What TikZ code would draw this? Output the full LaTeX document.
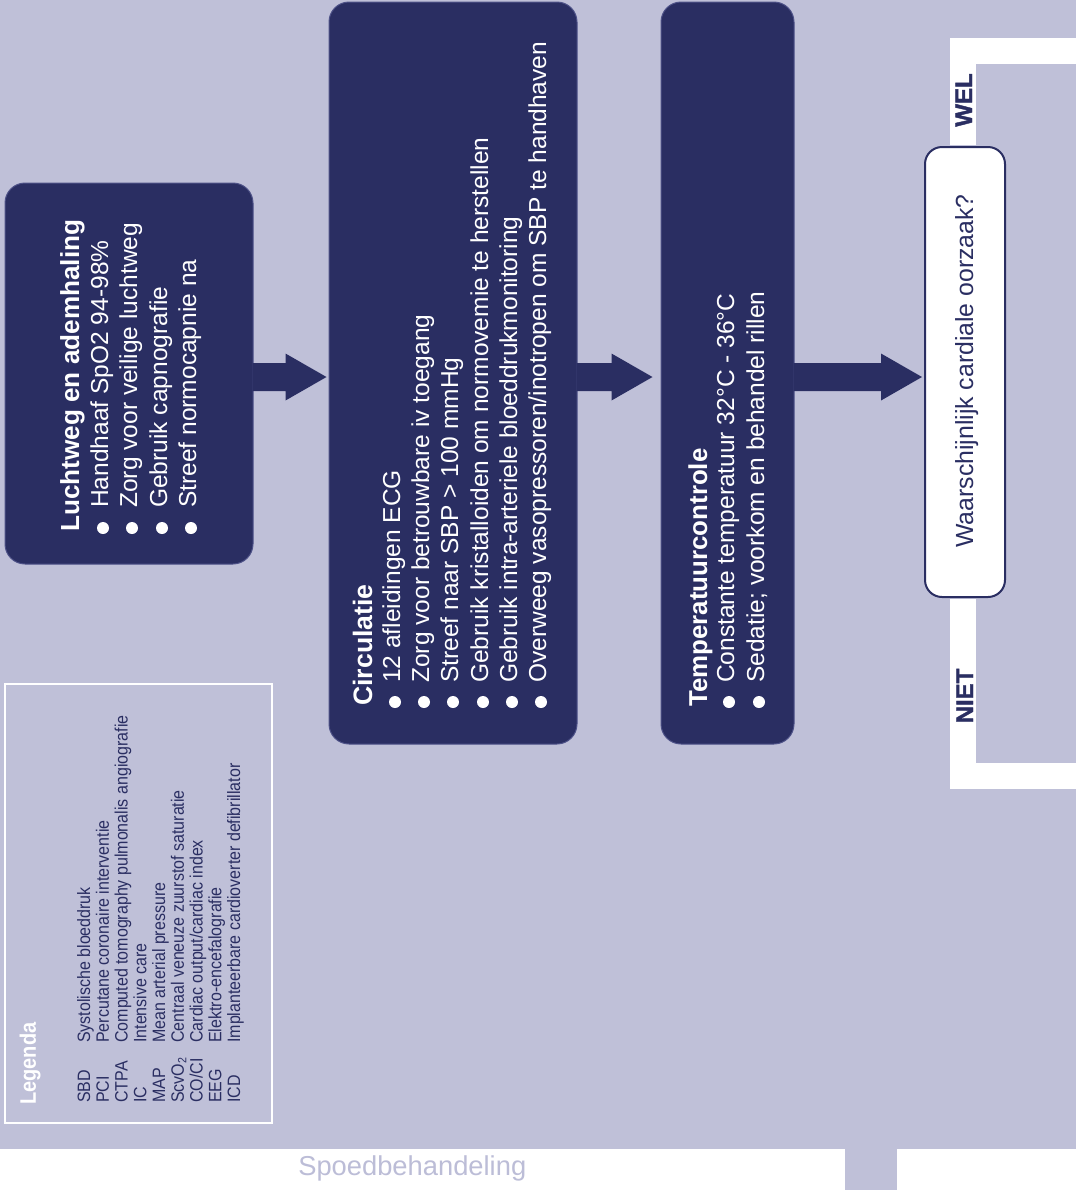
\documentclass[tikz,border=0pt]{standalone}
\usepackage{fontspec}
\setmainfont{Liberation Sans}
\newfontfamily\heavyfont[FakeBold=1.6]{Liberation Sans}
\usetikzlibrary{calc}
\definecolor{bg}{HTML}{BFC0D8}
\definecolor{navy}{HTML}{2A2E62}
\definecolor{boxline}{HTML}{4E5288}
\definecolor{spoed}{HTML}{BCBDD7}
\newcommand\myfs[1]{\fontsize{#1}{#1}\selectfont}
\newcommand\tall[1]{\scalebox{1}[1.12]{#1}}
\newcommand\blockarrow[3]{%
  \fill[navy] ($(#1.east|-ay)+(-1,-14)$) -- ($(#2.west|-ay)+(-#3-41,-14)$) -- ($(#2.west|-ay)+(-#3-41,-23.5)$)
   -- ($(#2.west|-ay)+(-#3,0)$) -- ($(#2.west|-ay)+(-#3-41,23.5)$) -- ($(#2.west|-ay)+(-#3-41,14)$)
   -- ($(#1.east|-ay)+(-1,14)$) -- cycle;}
\begin{document}
\begin{tikzpicture}[x=0.75pt,y=-0.75pt,
  darkbox/.style={fill=navy, draw=boxline, line width=0.75pt, rounded corners=15pt, inner sep=0pt},
  txt/.style={rotate=90, anchor=base west, inner sep=0pt, text=white, font=\myfs{18.4}},
  head/.style={rotate=90, anchor=base west, inner sep=0pt, text=white, font=\bfseries\myfs{#1}},
  legtxt/.style={rotate=90, anchor=base west, inner sep=0pt, text=navy, font=\myfs{12}},
  yesno/.style={rotate=90, anchor=base, inner sep=0pt, text=navy, font=\heavyfont\bfseries\myfs{18}},
  frame/.style={white, line width=19.5pt, line join=miter},
  bul/.style={fill=white}]
\useasboundingbox (0,0) rectangle (1076,1190);
\fill[bg] (0,0) rectangle (1076,1190);
\fill[white] (0,1149) rectangle (845,1190);
\fill[white] (897,1149) rectangle (1076,1190);
\node[anchor=base west, inner sep=0pt, text=spoed, font=\myfs{20.5}] (spoed) at (298,1175) {Spoedbehandeling};

\coordinate (ay) at (0,377);
\coordinate (fx) at (962.5,0);

% boxes
\node[darkbox, minimum width=186pt, minimum height=285.75pt] (b1) at (129,373.5) {};
\node[darkbox, minimum width=186pt, minimum height=556.5pt] (b2) at (453,373) {};
\node[darkbox, minimum width=99.75pt, minimum height=556.5pt] (b3) at (727.5,373) {};
\node[fill=white, draw=navy, line width=1.5pt, rounded corners=12.75pt, minimum width=60pt, minimum height=337.5pt, inner sep=0pt] (dec) at (965,372) {};

% white frame
\draw[frame] ($(dec.north -| fx)+(0,-1)$) -- (fx |- 0,50.5) -- (1080,50.5);
\draw[frame] ($(dec.south -| fx)+(0,1)$) -- (fx |- 0,775.5) -- (1080,775.5);

\node[rotate=90, anchor=base, inner sep=0pt, text=navy, font=\myfs{18.6}] (dectxt) at (973,371) {Waarschijnlijk cardiale oorzaak?};
\node[yesno] (wel) at (972,100) {WEL};
\node[yesno] (niet) at (973,696) {NIET};

% arrows
\blockarrow{b1}{b2}{2}
\blockarrow{b2}{b3}{8}
\blockarrow{b3}{dec}{2}

% box 1 text
\node[head=19.6] (h1) at (79,532) {Luchtweg en ademhaling};
\node[txt] (t11) at (108,508) {Handhaaf SpO2 94-98\%};
\node[txt] (t12) at (137,508) {Zorg voor veilige luchtweg};
\node[txt] (t13) at (167,508) {Gebruik capnografie};
\node[txt] (t14) at (196,508) {Streef normocapnie na};
\foreach \bx in {103,132,162,191} \fill[bul] (\bx,528) circle[radius=4.5pt];

% box 2 text
\node[head=20] (h2) at (372,706) {Circulatie};
\node[txt] (t21) at (400,683) {12 afleidingen ECG};
\node[txt] (t22) at (429,683) {Zorg voor betrouwbare iv toegang};
\node[txt] (t23) at (458,683) {Streef naar SBP > 100 mmHg};
\node[txt] (t24) at (488,683) {Gebruik kristalloiden om normovemie te herstellen};
\node[txt] (t25) at (517,683) {Gebruik intra-arteriele bloeddrukmonitoring};
\node[txt] (t26) at (546,683) {Overweeg vasopressoren/inotropen om SBP te handhaven};
\foreach \bx in {395,424,453,483,512,541} \fill[bul] (\bx,702) circle[radius=4.5pt];

% box 3 text
\node[head=19.4] (h3) at (707,707) {Temperatuurcontrole};
\node[txt] (t31) at (734,683) {Constante temperatuur 32°C - 36°C};
\node[txt] (t32) at (764,683) {Sedatie; voorkom en behandel rillen};
\foreach \bx in {729,759} \fill[bul] (\bx,702) circle[radius=4.5pt];

% legend
\node[draw=white, line width=1.5pt, minimum width=200.25pt, minimum height=329.25pt, inner sep=0pt] (leg) at (138.5,903.5) {};
\node[head=15] (legh) at (36,1105) {\tall{Legenda}};
\node[legtxt] (a1) at (90,1103) {\tall{SBD}};
\node[legtxt] (d1) at (90,1043) {\tall{Systolische bloeddruk}};
\node[legtxt] (a2) at (108.75,1103) {\tall{PCI}};
\node[legtxt] (d2) at (108.75,1043) {\tall{Percutane coronaire interventie}};
\node[legtxt] (a3) at (127.5,1103) {\tall{CTPA}};
\node[legtxt] (d3) at (127.5,1043) {\tall{Computed tomography pulmonalis angiografie}};
\node[legtxt] (a4) at (146.25,1103) {\tall{IC}};
\node[legtxt] (d4) at (146.25,1043) {\tall{Intensive care}};
\node[legtxt] (a5) at (165,1103) {\tall{MAP}};
\node[legtxt] (d5) at (165,1043) {\tall{Mean arterial pressure}};
\node[legtxt] (a6) at (183.75,1103) {\tall{ScvO\textsubscript{2}}};
\node[legtxt] (d6) at (183.75,1043) {\tall{Centraal veneuze zuurstof saturatie}};
\node[legtxt] (a7) at (202.5,1103) {\tall{CO/CI}};
\node[legtxt] (d7) at (202.5,1043) {\tall{Cardiac output/cardiac index}};
\node[legtxt] (a8) at (221.25,1103) {\tall{EEG}};
\node[legtxt] (d8) at (221.25,1043) {\tall{Elektro-encefalografie}};
\node[legtxt] (a9) at (240,1103) {\tall{ICD}};
\node[legtxt] (d9) at (240,1043) {\tall{Implanteerbare cardioverter defibrillator}};
\end{tikzpicture}
\end{document}
